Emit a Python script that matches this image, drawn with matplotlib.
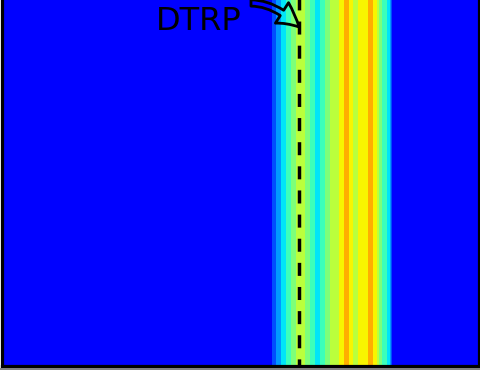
import numpy as np
import matplotlib
matplotlib.use("Agg")
import matplotlib.pyplot as plt
from matplotlib.lines import Line2D

# Filled contour bands across x (edges) and the level index filled in each band
band_edges = [56.7, 57.5, 58.6, 59.6, 60.7, 61.7, 63.6, 64.7, 65.7, 66.8, 67.8, 68.9,
              70.8, 71.8, 72.8, 73.7, 74.7, 76.8, 77.9, 78.7, 79.1, 79.8, 80.8, 81.4,
              81.7, 81.9]
band_levels = [1, 2, 3, 4, 5, 6, 5, 4, 3, 4, 5, 6, 7, 8, 7, 6, 7, 8, 7, 6, 5, 4, 3, 2, 1]
background_level = 0
x_range = (0, 100)

# Position of the DTRP marker
dtrp_x = 62.4
dtrp_label = "DTRP"

x_edges = [x_range[0]] + band_edges + [x_range[1]]
z = np.array([[background_level] + band_levels + [background_level]])

fig = plt.figure(figsize=(4.8, 3.7), dpi=100)
ax = fig.add_axes([1.5 / 480, 4 / 370, 477 / 480, 1.2])

# jet colours spaced 0.075 apart, level 0 at pure blue
ax.pcolormesh(x_edges, [0, 1], z, cmap="jet", vmin=-5 / 3, vmax=35 / 3,
              shading="flat", edgecolors="none", antialiased=False)
ax.set_xlim(*x_range)
ax.set_ylim(0, 1)
ax.set_xticks([])
ax.set_yticks([])
for s in ax.spines.values():
    s.set_linewidth(2.3)

ax.axvline(dtrp_x, color="k", lw=2.5, linestyle=(1.7, (3.75, 3.2)))

ax.annotate("", xy=(dtrp_x, 1 - 27 / 370), xycoords=("data", "figure fraction"),
            xytext=(251 / 480, 1 - 3 / 370), textcoords="figure fraction",
            arrowprops=dict(arrowstyle="simple,head_length=1.6,head_width=1.75,tail_width=0.45",
                            connectionstyle="angle3,angleA=0,angleB=-45",
                            fc="none", ec="k", lw=2.0, mutation_scale=10,
                            shrinkA=0, shrinkB=0))
fig.text(199 / 480, 1 - 30.5 / 370, dtrp_label, fontsize=23, ha="center", va="baseline")

fig.add_artist(Line2D([0, 1], [1.5 / 370, 1.5 / 370], transform=fig.transFigure,
                      color="#808080", lw=1.4))

fig.savefig("out.png", dpi=100)
